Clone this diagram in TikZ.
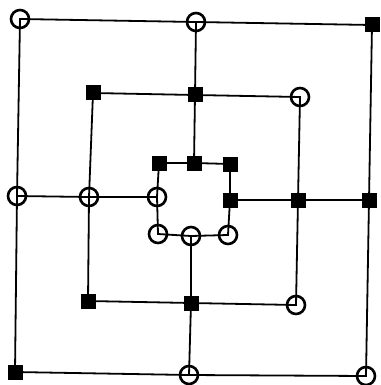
\documentclass[tikz,border=0pt]{standalone}
\begin{document}
\begin{tikzpicture}[x=1pt,y=-1pt,
  wp/.style={circle,draw=black,line width=2.6pt,minimum size=18pt,inner sep=0pt},
  bp/.style={rectangle,fill=black,minimum size=15pt,inner sep=0pt},
  edge/.style={line width=1.8pt}]
\useasboundingbox (0,0) rectangle (380,385);
% outer
\coordinate (o1) at (20,19);
\coordinate (o2) at (196,22);
\coordinate (o3) at (372,25);
\coordinate (o4) at (369,200);
\coordinate (o5) at (366,376);
\coordinate (o6) at (189,375);
\coordinate (o7) at (15,372);
\coordinate (o8) at (17,196);
% middle
\coordinate (m1) at (93,93);
\coordinate (m2) at (195,95);
\coordinate (m3) at (300,97);
\coordinate (m4) at (298,200);
\coordinate (m5) at (296,305);
\coordinate (m6) at (191,303);
\coordinate (m7) at (88,301);
\coordinate (m8) at (89,197);
% inner
\coordinate (i1) at (159,163);
\coordinate (i2) at (194,163);
\coordinate (i3) at (230,164);
\coordinate (i4) at (230,200);
\coordinate (i5) at (228,235);
\coordinate (i6) at (191,236);
\coordinate (i7) at (158,234);
\coordinate (i8) at (157,197);
\draw[edge] (o1)--(o2)--(o3)--(o4)--(o5)--(o6)--(o7)--(o8)--cycle;
\draw[edge] (m1)--(m2)--(m3)--(m4)--(m5)--(m6)--(m7)--(m8)--cycle;
\draw[edge] (i1)--(i2)--(i3)--(i4)--(i5)--(i6)--(i7)--(i8)--cycle;
\draw[edge] (o2)--(m2)--(i2);
\draw[edge] (o4)--(m4)--(i4);
\draw[edge] (o6)--(m6)--(i6);
\draw[edge] (o8)--(m8)--(i8);
% pieces
\foreach \p in {o1,o2,o5,o6,o8,m3,m5,m8,i5,i6,i7,i8}
  \node[wp] (w\p) at (\p) {};
\foreach \p in {o3,o4,o7,m1,m2,m4,m6,m7,i1,i2,i3,i4}
  \node[bp] (b\p) at (\p) {};
\end{tikzpicture}
\end{document}
